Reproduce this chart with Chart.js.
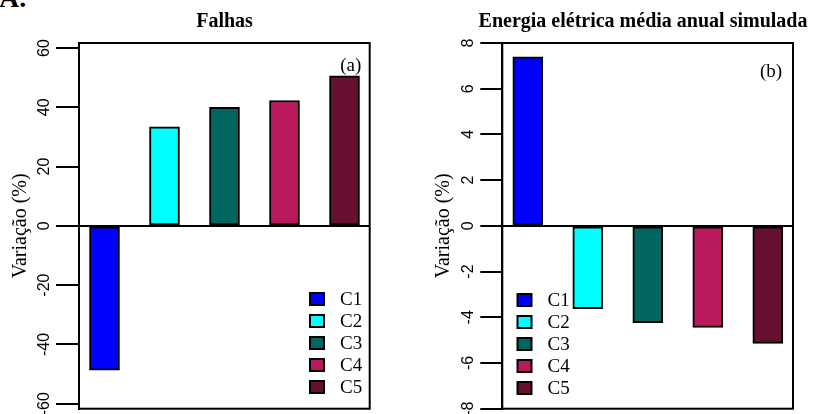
<!DOCTYPE html>
<html>
<head>
<meta charset="utf-8">
<script src="https://cdn.jsdelivr.net/npm/chart.js@4/dist/chart.umd.min.js"></script>
<style>
  body { margin: 0; background: #fff; width: 815px; height: 414px; overflow: hidden; position: relative; }
  canvas { position: absolute; top: 0; }
  #ca { left: 0; }
  #cb { left: 410px; }
  #tag { position: absolute; left: -1px; top: -16px; font: bold 28px 'Liberation Serif'; line-height: 28px; }
</style>
</head>
<body>
<div id="tag">A.</div>
<canvas id="ca" width="449" height="414"></canvas>
<canvas id="cb" width="466" height="414"></canvas>
<script>
var categories = ['C1', 'C2', 'C3', 'C4', 'C5'];
var colors = ['#0000ff', '#00ffff', '#00665f', '#ba1a5b', '#650f31'];
var falhas = [-48.7, 33.4, 40.0, 42.3, 50.6];
var energia = [7.39, -3.62, -4.24, -4.44, -5.14];
var ticksFalhas = [-60, -40, -20, 0, 20, 40, 60];
var ticksEnergia = [-8, -6, -4, -2, 0, 2, 4, 6, 8];

var SERIF = "'Liberation Serif', 'Times New Roman', serif";
var SANS = "'Liberation Sans', Arial, sans-serif";

// frame, legend and panel letter
var panelPlugin = {
  id: 'panel',
  afterDatasetsDraw: function (chart, args, o) {
    var ctx = chart.ctx;
    var a = chart.chartArea;
    ctx.save();
    ctx.strokeStyle = '#000';
    ctx.lineWidth = 2;
    ctx.strokeRect(a.left, a.top, a.right - a.left, a.bottom - a.top);

    ctx.fillStyle = '#000';
    ctx.font = '19px ' + SERIF;
    ctx.textAlign = 'center';
    ctx.textBaseline = 'middle';
    ctx.fillText(o.tag, o.tagX, o.tagY);

    ctx.textAlign = 'left';
    categories.forEach(function (c, i) {
      var y = o.legendY + i * 22;
      ctx.fillStyle = colors[i];
      ctx.fillRect(o.legendX, y - 6, 14, 12);
      ctx.strokeStyle = '#000';
      ctx.lineWidth = 2;
      ctx.strokeRect(o.legendX, y - 6, 14, 12);
      ctx.fillStyle = '#000';
      ctx.fillText(c, o.legendX + 30, y + 1);
    });
    ctx.restore();
  }
};

function makeChart(id, title, values, ticks, lim, axisWidth, rightWidth, titlePad, panel) {
  return new Chart(document.getElementById(id), {
    type: 'bar',
    data: {
      datasets: [{
        data: categories.map(function (c, i) { return { x: i + 1, y: values[i] }; }),
        backgroundColor: colors,
        borderColor: '#000',
        borderWidth: 2,
        borderSkipped: false,
        barThickness: 30,
      }],
    },
    options: {
      responsive: false,
      animation: false,
      layout: { padding: { left: 0, top: 0, right: 0, bottom: 5.3 } },
      scales: {
        x: { type: 'linear', min: 0.575, max: 5.42, offset: false, display: false },
        y: {
          min: -lim,
          max: lim,
          afterBuildTicks: function (s) {
            s.ticks = ticks.map(function (v) { return { value: v }; });
          },
          afterFit: function (s) {
            s.width = axisWidth;
            s.paddingTop = 0;
            s.paddingBottom = 0;
          },
          ticks: {
            color: '#000',
            font: { family: SANS, size: 16 },
            minRotation: 90,
            maxRotation: 90,
            crossAlign: 'center',
            padding: id === 'ca' ? 0 : 5,
          },
          grid: {
            drawTicks: true,
            tickLength: id === 'ca' ? 23 : 22,
            tickColor: '#000',
            tickWidth: 2,
            lineWidth: 2,
            color: function (c) { return c.tick && c.tick.value === 0 ? '#000' : 'rgba(0,0,0,0)'; },
          },
          border: { display: true, color: '#000', width: 2 },
          title: {
            display: true,
            text: 'Variação (%)',
            color: '#000',
            font: { family: SERIF, size: 20 },
            padding: { top: titlePad, bottom: 0 },
          },
        },
        // empty right margin so the title centres like the original
        side: {
          type: 'linear',
          position: 'right',
          ticks: { display: false },
          grid: { display: false },
          border: { display: false },
          afterFit: function (s) {
            s.width = rightWidth;
            s.paddingTop = 0;
            s.paddingBottom = 0;
          },
        },
      },
      plugins: {
        legend: { display: false },
        tooltip: { enabled: false },
        title: {
          display: true,
          text: title,
          color: '#000',
          font: { family: SERIF, size: 20, weight: 'bold' },
          padding: { top: 10, bottom: 9 },
        },
        panel: panel,
      },
    },
    plugins: [panelPlugin],
  });
}

makeChart('ca', 'Falhas', falhas, ticksFalhas, 61.7, 79, 79.3, 8.5,
  { tag: '(a)', tagX: 350.7, tagY: 66, legendX: 310, legendY: 299 });
makeChart('cb', 'Energia elétrica média anual simulada', energia, ticksEnergia, 8, 92.3, 83, 22,
  { tag: '(b)', tagX: 771 - 410, tagY: 72, legendX: 107.5, legendY: 300 });
</script>
</body>
</html>
